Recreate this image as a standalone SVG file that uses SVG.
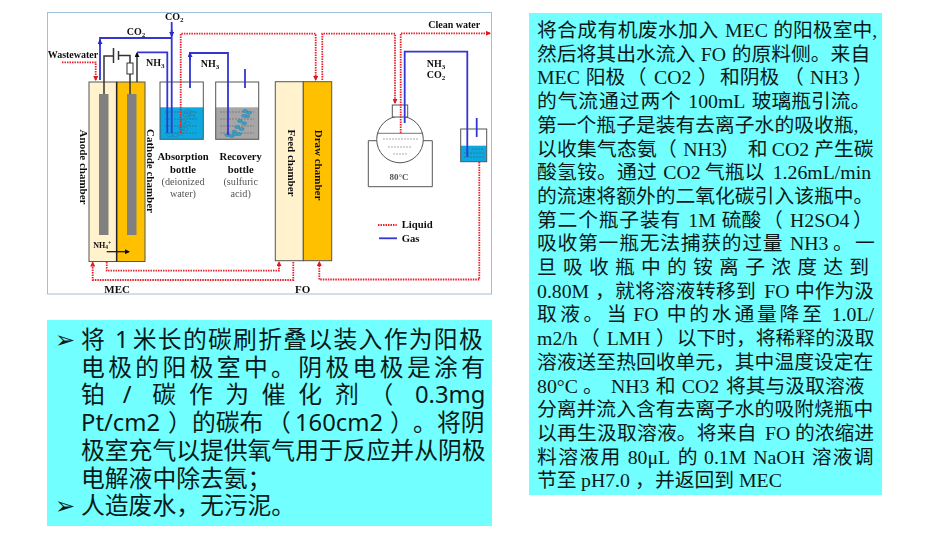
<svg xmlns="http://www.w3.org/2000/svg" width="950" height="535" viewBox="0 0 950 535">
<defs>
<style>
.ser{font-family:"Liberation Serif","Noto Sans CJK SC",serif;fill:#111}
.b{font-weight:700}
.g{fill:#555}
.r{font-family:"Liberation Serif","Noto Sans CJK SC",serif;font-size:19.8px;fill:#0a1a1a}
.l{font-family:"Noto Sans","Noto Sans CJK SC",sans-serif;font-size:23.8px;fill:#0a1a1a}
.bu{font-family:"DejaVu Sans",sans-serif;font-size:24px;font-weight:700;fill:#0a1a1a}
.liq{fill:none;stroke:#e8202c;stroke-width:1.8;stroke-dasharray:1.5 1}
.gas{fill:none;stroke:#3434d4;stroke-width:1.8}
.wire{fill:none;stroke:#333;stroke-width:1.5}
.box{stroke:#555;stroke-width:1}
.bub{fill:#3aa0c8;stroke:#2a80a8;stroke-width:.5}
.bo{fill:none;stroke:#2a80a8;stroke-width:.6}
.dash{stroke:#555;stroke-width:.5;stroke-dasharray:2 1}
</style>
<marker id="ar" markerWidth="5" markerHeight="5" refX="4" refY="2.5" orient="auto" markerUnits="userSpaceOnUse"><path d="M0 0L5 2.5L0 5z" fill="#e01820"/></marker>
<marker id="ab" markerWidth="5" markerHeight="5" refX="4" refY="2.5" orient="auto" markerUnits="userSpaceOnUse"><path d="M0 0L5 2.5L0 5z" fill="#2a2ac8"/></marker>
<marker id="ak" markerWidth="5" markerHeight="5" refX="4" refY="2.5" orient="auto" markerUnits="userSpaceOnUse"><path d="M0 0L5 2.5L0 5z" fill="#111"/></marker>
<filter id="soft" x="0" y="0" width="100%" height="100%"><feGaussianBlur stdDeviation="0.35"/></filter>
</defs>
<rect width="950" height="535" fill="#fff"/>
<g id="figure" filter="url(#soft)">
<rect x="47.5" y="12.5" width="444" height="281.5" fill="#fff" stroke="#9fc2dc" stroke-width="1"/>
<g id="anode-chamber">
<rect class="box" x="89" y="82" width="28" height="179.500" fill="#fff2cc"/>
<rect x="99" y="94" width="9.500" height="141" fill="#808080"/>
<text class="ser b" font-size="11" transform="translate(79.500,167) rotate(90)" text-anchor="middle">Anode chamber</text>
</g>
<g id="cathode-chamber">
<rect class="box" x="117" y="82" width="28" height="179.500" fill="#ffc000"/>
<rect x="127" y="94" width="9.500" height="141" fill="#808080"/>
<line x1="116.500" y1="82" x2="116.500" y2="261.500" stroke="#222" stroke-width="1.200"/>
<text class="ser b" font-size="11" transform="translate(147,171) rotate(90)" text-anchor="middle">Cathode chamber</text>
</g>
<g id="nh4">
<text class="ser b" font-size="8" x="93.300" y="247.700">NH<tspan font-size="5.500" dy="1.500">4</tspan><tspan font-size="5.500" dy="-4">+</tspan></text>
<line x1="106.700" y1="251.700" x2="129" y2="251.700" stroke="#111" stroke-width="1.200" marker-end="url(#ak)"/>
</g>
<g id="power">
<path class="wire" d="M104 94V56H113.500M118.500 55.500H130V63M130 74V94"/>
<path class="wire" d="M113.500 48V63M118.500 51V60"/>
<rect x="127" y="63" width="6" height="11" fill="#fff" stroke="#333"/>
<path class="wire" d="M137 82V53" marker-end="url(#ak)"/>
</g>
<g id="absorption-bottle">
<rect x="160" y="107.300" width="43.300" height="32" fill="#0aa8e0"/>
<rect class="box" x="160" y="82" width="43.300" height="57.300" fill="none"/>
<g class="dash"><line x1="165" y1="112" x2="198" y2="112"/><line x1="165" y1="119" x2="198" y2="119"/><line x1="165" y1="126" x2="198" y2="126"/><line x1="165" y1="133" x2="198" y2="133"/></g>
<g class="bo"><ellipse cx="188.300" cy="111.700" rx="3" ry="1.800"/><ellipse cx="192.700" cy="113.300" rx="3" ry="1.800"/><ellipse cx="186" cy="115" rx="3" ry="1.800"/><ellipse cx="191.700" cy="117" rx="3" ry="1.800"/><ellipse cx="183.300" cy="121.700" rx="3" ry="1.800"/><ellipse cx="187.300" cy="123.300" rx="3" ry="1.800"/><ellipse cx="181.700" cy="127.700" rx="3" ry="1.800"/><ellipse cx="185" cy="129" rx="3" ry="1.800"/><ellipse cx="180" cy="133.300" rx="3" ry="1.800"/><ellipse cx="175" cy="135" rx="3" ry="1.800"/><ellipse cx="170" cy="135" rx="3" ry="1.800"/></g>
<text class="ser b" font-size="10.600" x="183" y="160" text-anchor="middle">Absorption</text>
<text class="ser b" font-size="10.600" x="183" y="172.700" text-anchor="middle">bottle</text>
<text class="ser g" font-size="10.200" x="183" y="185" text-anchor="middle">(deionized</text>
<text class="ser g" font-size="10.200" x="183" y="197" text-anchor="middle">water)</text>
</g>
<g id="recovery-bottle">
<rect x="215.700" y="107.300" width="43" height="32" fill="#a6a6a6"/>
<rect class="box" x="215.700" y="82" width="43" height="57.300" fill="none"/>
<g class="dash"><line x1="220" y1="112" x2="254" y2="112"/><line x1="220" y1="119" x2="254" y2="119"/><line x1="220" y1="126" x2="254" y2="126"/><line x1="220" y1="133" x2="254" y2="133"/></g>
<g class="bub"><ellipse cx="245" cy="111" rx="2.500" ry="1.500"/><ellipse cx="249" cy="112.700" rx="2.500" ry="1.500"/><ellipse cx="247.300" cy="116.300" rx="2.500" ry="1.500"/><ellipse cx="244" cy="115.700" rx="2.500" ry="1.500"/><ellipse cx="240" cy="121" rx="2.500" ry="1.500"/><ellipse cx="244.300" cy="123.300" rx="2.500" ry="1.500"/><ellipse cx="237.300" cy="127" rx="2.500" ry="1.500"/><ellipse cx="241.700" cy="129" rx="2.500" ry="1.500"/><ellipse cx="234.300" cy="131.700" rx="2.500" ry="1.500"/><ellipse cx="239" cy="134" rx="2.500" ry="1.500"/><ellipse cx="227.300" cy="135" rx="2.500" ry="1.500"/><ellipse cx="231.700" cy="136" rx="2.500" ry="1.500"/><ellipse cx="235" cy="134.300" rx="2.500" ry="1.500"/></g>
<text class="ser b" font-size="10.600" x="240.700" y="160" text-anchor="middle">Recovery</text>
<text class="ser b" font-size="10.600" x="240.700" y="172.700" text-anchor="middle">bottle</text>
<text class="ser g" font-size="10.200" x="240.700" y="185" text-anchor="middle">(sulfuric</text>
<text class="ser g" font-size="10.200" x="240.700" y="197" text-anchor="middle">acid)</text>
</g>
<g id="feed-chamber">
<rect class="box" x="275.300" y="81.700" width="28" height="179" fill="#fff2cc"/>
<text class="ser b" font-size="11" transform="translate(287.500,163) rotate(90)" text-anchor="middle">Feed chamber</text>
</g>
<g id="draw-chamber">
<rect class="box" x="303.300" y="81.700" width="28.400" height="179" fill="#ffc000"/>
<text class="ser b" font-size="11" transform="translate(314.500,165) rotate(90)" text-anchor="middle">Draw chamber</text>
</g>
<g id="flask">
<path class="box" fill="none" d="M378 140.700H368.300V186.700H432.300V140.700H422"/>
<circle class="box" cx="400" cy="139.500" r="23.300" fill="#fff"/>
<path d="M377 133.300H423" stroke="#555" fill="none" stroke-width=".8"/>
<rect class="box" x="392.300" y="105" width="15.400" height="12" fill="#fff"/>
<g class="dash"><line x1="383" y1="139" x2="418" y2="139"/><line x1="388" y1="147" x2="411" y2="147"/><line x1="393" y1="154" x2="407" y2="154"/></g>
<text class="ser b g" font-size="9" x="399" y="180" text-anchor="middle">80°C</text>
</g>
<g id="small-bottle">
<rect x="460.700" y="145.700" width="26" height="16" fill="#0aa8e0"/>
<rect class="box" x="460.700" y="129" width="26" height="32.700" fill="none"/>
<g class="dash"><line x1="472" y1="149" x2="484" y2="149"/><line x1="464" y1="153" x2="484" y2="153"/><line x1="464" y1="157" x2="484" y2="157"/></g>
</g>
<g id="connectors">
<path class="liq" d="M62 62.300H95.700V80" marker-end="url(#ar)"/>
<path class="liq" d="M180.700 133V33.700H315.700V80" marker-end="url(#ar)"/>
<path class="liq" d="M322.300 80V33.700H395V103" marker-end="url(#ar)"/>
<path class="liq" d="M400.700 133V33.300H490" marker-end="url(#ar)"/>
<path class="liq" d="M106.700 262V270.700H279V262" marker-end="url(#ar)"/>
<path class="liq" d="M293.300 262V280H92.700V262.500" marker-end="url(#ar)"/>
<path class="liq" d="M479.300 162V279.500H319.300V262" marker-end="url(#ar)"/>
<path class="gas" d="M100 80V38H171.700"/>
<path class="gas" d="M100 46V40" marker-end="url(#ab)"/>
<path class="gas" d="M171.700 22V133"/>
<path class="gas" d="M171.700 30V36" marker-end="url(#ab)"/>
<path class="gas" d="M137 52.300H167.300V133"/>
<path class="gas" d="M190 88V53H228V135"/>
<path class="gas" d="M190 60V53" marker-end="url(#ab)"/>
<path class="gas" d="M245 69V88"/>
<path class="gas" d="M404.700 123V51.700H467.300V157"/>
<path class="gas" d="M476.700 118V137"/>
<text class="ser b" font-size="10" x="126.700" y="35">CO<tspan font-size="7" dy="2">2</tspan></text>
<text class="ser b" font-size="10" x="165" y="20">CO<tspan font-size="7" dy="2">2</tspan></text>
<text class="ser b" font-size="10" x="47.700" y="58">Wastewater</text>
<text class="ser b" font-size="10" x="146" y="66">NH<tspan font-size="7" dy="2">3</tspan></text>
<text class="ser b" font-size="10" x="200.700" y="67">NH<tspan font-size="7" dy="2">3</tspan></text>
<text class="ser b" font-size="10" x="428.300" y="28.300">Clean water</text>
<text class="ser b" font-size="10" x="426.700" y="66.700">NH<tspan font-size="7" dy="2">3</tspan></text>
<text class="ser b" font-size="10" x="426.700" y="77.700">CO<tspan font-size="7" dy="2">2</tspan></text>
<text class="ser b" font-size="11" x="104.300" y="292.700">MEC</text>
<text class="ser b" font-size="11" x="295" y="292.700">FO</text>
</g>
<g id="legend">
<line class="liq" x1="378" y1="225" x2="396.700" y2="225"/>
<line class="gas" x1="379" y1="238.300" x2="397" y2="238.300"/>
<text class="ser b" font-size="10.700" x="401.700" y="228.300">Liquid</text>
<text class="ser b" font-size="10.700" x="401.700" y="241.700">Gas</text>
</g>
</g>
<g id="left-text">
<rect x="47" y="320" width="445" height="206" fill="#72ffff"/>
<text class="bu" x="55" y="348">➢</text>
<text class="l" y="348"><tspan x="81">将</tspan><tspan x="115">1</tspan><tspan x="132.700" letter-spacing="1.300">米长的碳刷折叠以装入作为阳极</tspan></text>
<text class="l" x="81" y="375.700" textLength="404">电极的阳极室中。阴极电极是涂有</text>
<text class="l" y="403.400"><tspan x="81">铂</tspan><tspan x="122.700">/</tspan><tspan x="152.300">碳</tspan><tspan x="189">作</tspan><tspan x="225.300">为</tspan><tspan x="261.700">催</tspan><tspan x="298.300">化</tspan><tspan x="335">剂</tspan><tspan x="369.500">（</tspan><tspan x="415">0.3mg</tspan></text>
<text class="l" y="431"><tspan x="81">Pt/cm2</tspan><tspan x="168">）</tspan><tspan x="192">的碳布</tspan><tspan x="267">（</tspan><tspan x="295">160cm2</tspan><tspan x="390">）</tspan><tspan x="413">。</tspan><tspan x="437">将阴</tspan></text>
<text class="l" x="81" y="459">极室充气以提供氧气用于反应并从阴极</text>
<text class="l" x="81" y="486.500">电解液中除去氨；</text>
<text class="bu" x="55" y="514">➢</text>
<text class="l" x="81" y="514">人造废水，无污泥。</text>
</g>
<g id="right-text">
<rect x="529" y="13" width="353" height="482" fill="#72ffff"/>
<text class="r" y="37"><tspan x="537" letter-spacing=".4">将合成有机废水加入</tspan><tspan x="725">MEC</tspan><tspan x="773.300">的阳极室中,</tspan></text>
<text class="r" y="60.700"><tspan x="537">然后将其出水流入</tspan><tspan x="700.700">FO</tspan><tspan x="731.700">的原料侧。来自</tspan></text>
<text class="r" y="84.400"><tspan x="537">MEC</tspan><tspan x="585.700">阳极</tspan><tspan x="626.700">（</tspan><tspan x="654">CO2</tspan><tspan x="698">）</tspan><tspan x="720">和阴极</tspan><tspan x="784">（</tspan><tspan x="810">NH3</tspan><tspan x="853">）</tspan></text>
<text class="r" y="108.100"><tspan x="537" letter-spacing=".9">的气流通过两个</tspan><tspan x="688.300">100mL</tspan><tspan x="751.700">玻璃瓶引流。</tspan></text>
<text class="r" x="537" y="131.800">第一个瓶子是装有去离子水的吸收瓶,</text>
<text class="r" y="155.500"><tspan x="537" letter-spacing=".2">以收集气态氨</tspan><tspan x="657">（</tspan><tspan x="683.300">NH3</tspan><tspan x="720">）</tspan><tspan x="747.700">和</tspan><tspan x="771.700">CO2</tspan><tspan x="814.300">产生碳</tspan></text>
<text class="r" y="179.200"><tspan x="537" letter-spacing=".2">酸氢铵。通过</tspan><tspan x="663.300">CO2</tspan><tspan x="705">气瓶以</tspan><tspan x="772.700">1.26mL/min</tspan></text>
<text class="r" x="537" y="202.900">的流速将额外的二氧化碳引入该瓶中。</text>
<text class="r" y="226.600"><tspan x="537" letter-spacing=".8">第二个瓶子装有</tspan><tspan x="688.300">1M</tspan><tspan x="721.700">硫酸</tspan><tspan x="763">（</tspan><tspan x="790">H2SO4</tspan><tspan x="853">）</tspan></text>
<text class="r" y="250.300"><tspan x="537" letter-spacing=".75">吸收第一瓶无法捕获的过量</tspan><tspan x="790">NH3</tspan><tspan x="833">。</tspan><tspan x="855">一</tspan></text>
<text class="r" x="537" y="274" textLength="332">旦吸收瓶中的铵离子浓度达到</text>
<text class="r" y="297.700"><tspan x="537">0.80M</tspan><tspan x="595">，</tspan><tspan x="615" letter-spacing=".4">就将溶液转移到</tspan><tspan x="764.300">FO</tspan><tspan x="795">中作为汲</tspan></text>
<text class="r" y="321.400"><tspan x="537" letter-spacing="3.500">取液。当</tspan><tspan x="633.300">FO</tspan><tspan x="666.700" letter-spacing="2.800">中的水通量降至</tspan><tspan x="831.700">1.0L/</tspan></text>
<text class="r" y="345.100"><tspan x="537">m2/h</tspan><tspan x="580">（</tspan><tspan x="606.700">LMH</tspan><tspan x="656">）</tspan><tspan x="676.700">以下时，将稀释的汲取</tspan></text>
<text class="r" x="537" y="368.800">溶液送至热回收单元，其中温度设定在</text>
<text class="r" y="392.500"><tspan x="537">80°C</tspan><tspan x="583">。</tspan><tspan x="611">NH3</tspan><tspan x="655.700">和</tspan><tspan x="681.700">CO2</tspan><tspan x="726">将其与汲取溶液</tspan></text>
<text class="r" x="537" y="416.200">分离并流入含有去离子水的吸附烧瓶中</text>
<text class="r" y="439.900"><tspan x="537" letter-spacing=".2">以再生汲取溶液。将来自</tspan><tspan x="765">FO</tspan><tspan x="795">的浓缩进</tspan></text>
<text class="r" y="463.600"><tspan x="537" letter-spacing="1.400">料溶液用</tspan><tspan x="627.700">80μL</tspan><tspan x="677.700">的</tspan><tspan x="704">0.1M</tspan><tspan x="753.300">NaOH</tspan><tspan x="811.700" letter-spacing="1.200">溶液调</tspan></text>
<text class="r" y="487.300"><tspan x="537">节至</tspan><tspan x="581">pH7.0</tspan><tspan x="635">，</tspan><tspan x="655">并返回到</tspan><tspan x="739">MEC</tspan></text>
</g>
</svg>
